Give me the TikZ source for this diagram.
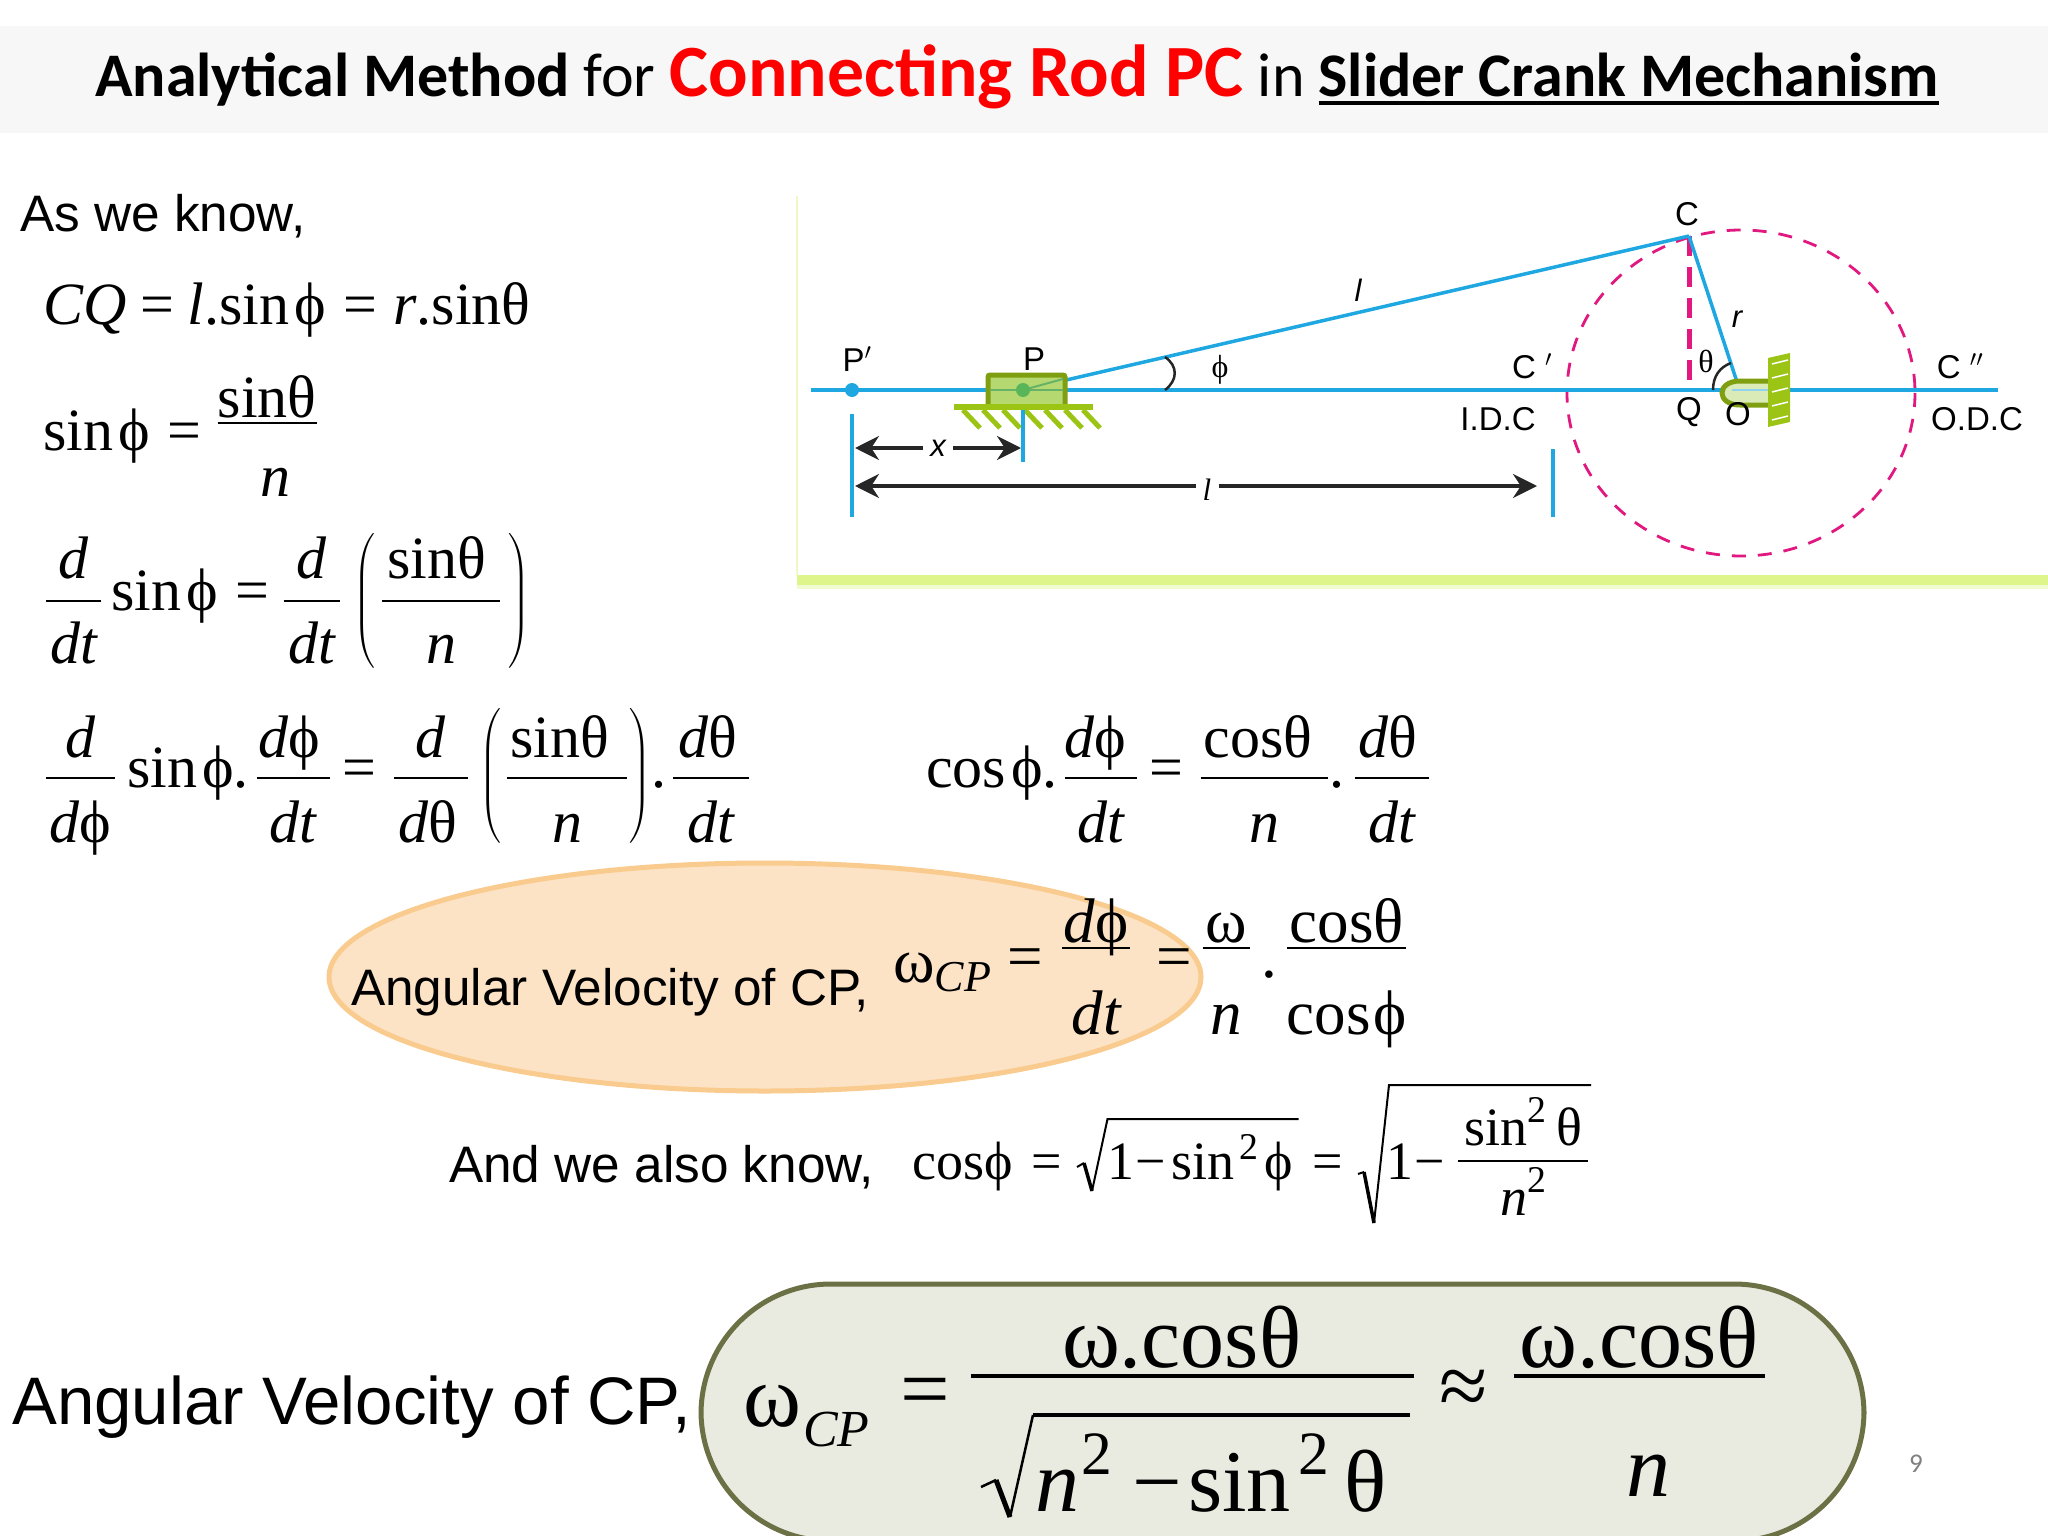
\documentclass[tikz,border=0pt]{standalone}
\usepackage{fix-cm}
\usepackage{amsmath}
\usepackage{fontspec}
\setmainfont{Liberation Serif}
\newfontfamily\bodyfont{Liberation Sans}
\newfontfamily\titlefont{Carlito}
\usetikzlibrary{arrows.meta}
\definecolor{rodblue}{HTML}{1EA7E1}
\definecolor{circlepink}{HTML}{E0187F}
\definecolor{framegreen}{HTML}{7F9F10}
\definecolor{hatchgreen}{HTML}{9CC414}
\definecolor{slidegreen}{HTML}{B6D870}
\definecolor{barlime}{HTML}{DDF58A}
\definecolor{peach}{HTML}{FDE3C6}
\definecolor{peachline}{HTML}{F9CB8E}
\definecolor{sage}{HTML}{E9EBE0}
\definecolor{sageline}{HTML}{6B7045}
\newcommand{\vr}[1]{\text{\itshape #1}}
\newcommand{\phv}{\text{ϕ}}
\newcommand{\thv}{\text{θ}}
\newcommand{\omv}{\text{ω}}
\newcommand{\ssin}{\text{sin}}
\newcommand{\ccos}{\text{cos}}
\newcommand{\two}{^{\text{2}}}
\newcommand{\dotv}{\text{.}}
\newcommand{\eql}{\text{=}}
\newcommand{\mns}{\text{−}}
\newcommand{\gap}[1]{\kern#1pt\relax}
\newcommand{\frthick}{2pt}
\newcommand{\setfr}[3]{\def\frbar{#1pt}\def\frup{#2pt}\def\frdown{#3pt}}
\newcommand{\fr}[3]{\mathord{\hbox{%
  \hbox to 0pt{\hbox to #1pt{\hss\raise\dimexpr\frbar+\frup\relax\hbox{$\displaystyle#2$}\hss}\hss}%
  \hbox to 0pt{\hbox to #1pt{\hss\lower\dimexpr\frdown-\frbar\relax\hbox{$\displaystyle#3$}\hss}\hss}%
  \rule[\frbar]{#1pt}{\frthick}}}}
\newcommand{\lowpar}[2]{\mathord{\lower#1pt\hbox{$\displaystyle\left(#2\right)$}}}
\newcommand{\thickul}[1]{\setbox0=\hbox{#1}\rlap{\rule[-8pt]{\wd0}{3.5pt}}\box0}
\tikzset{
  eqn/.style={anchor=base west, inner sep=0pt, font=\fontsize{60}{70}\selectfont},
  say/.style={anchor=base west, inner sep=0pt, font=\bodyfont\fontsize{51.3}{60}\selectfont},
  lbl/.style={inner sep=0pt, font=\bodyfont\fontsize{33}{38}\selectfont},
  lbi/.style={inner sep=1pt, font=\bodyfont\itshape\fontsize{31}{36}\selectfont},
  rod/.style={draw=rodblue, line width=3.5pt},
  dim/.style={draw=black!85, line width=3.5pt, -{Stealth[length=24pt,width=24pt]}},
  hatch/.style={draw=hatchgreen, line width=5pt},
}
\begin{document}
\begin{tikzpicture}[x=1pt,y=-1pt]
    \clip (0,0) rectangle (2048,1536);
    \fill[black!3] (0,26) rectangle (2048,133);
    \node[anchor=base west, inner sep=0pt, font=\titlefont\fontsize{62}{70}\selectfont] (title) at (95,97)
      {\textbf{Analytical Method} for {\fontsize{73.7}{78}\selectfont\bfseries\color{red}Connecting Rod PC} in \textbf{\thickul{Slider Crank Mechanism}}};

    \fill[barlime] (797,575) rectangle (2048,585);
    \fill[barlime!40] (797,585) rectangle (2048,589);
    \draw[barlime!50, line width=1.5pt] (797,196) -- (797,575);

    \coordinate (axisl) at (811,390);
    \coordinate (axisr) at (1998,390);
    \coordinate (pdot)  at (1023,390);
    \coordinate (pold)  at (852,390);
    \coordinate (c)     at (1689,236);
    \coordinate (q)     at (1689,390);
    \coordinate (o)     at (1737,382);

    \draw[circlepink, line width=2.8pt, dash pattern=on 14pt off 12pt] (1741,393) ellipse [x radius=174, y radius=163];
    \draw[rod] (axisl) -- (axisr);
    \fill[rodblue] (pold) circle (7);
    \draw[circlepink, line width=5pt, dash pattern=on 20pt off 11pt] (c) -- (q);
    \draw[rod] (c) -- (pdot);
    \draw[rod] (c) -- (o);

    \draw[framegreen, fill=slidegreen, line width=5pt, rounded corners=2pt] (988,404) -- (988,375) -- (1065,375) -- (1065,404);
    \draw[draw=green!50!black!60, line width=2pt] (990,390) -- (1063,390);
    \draw[draw=green!50!black!60, line width=2pt] (pdot) -- (1063,379);
    \fill[green!55!black!65] (pdot) circle (7);
    \fill[hatchgreen] (954,404) rectangle (1093,410);
    \foreach \hx in {963,983,1003,1025,1045,1065,1083}
      \draw[hatch] (\hx,410) -- ++(17,18);

    \draw[framegreen, fill=slidegreen!50, line width=5pt] (1770,381) -- (1740,381) .. controls (1716,381) and (1716,405) .. (1740,405) -- (1770,405);
    \draw[rod, line width=1.5pt, rodblue!50] (1732,390) -- (1768,390);
    \fill[hatchgreen] (1768,358) -- (1790,353) -- (1790,422) -- (1768,427) -- cycle;
    \foreach \hy in {364,378,392,406,420}
      \draw[white, line width=1.5pt] (1772,\hy) -- (1788,\hy-4);

    \draw[black!85, line width=2.5pt] (1165,357) .. controls (1178,366) and (1178,380) .. (1165,390);
    \draw[black!85, line width=2.5pt] (1713,390) .. controls (1713,376) and (1720,367) .. (1731,363);

    \node[lbl] (cname)  at (1687,214) {C};
    \node[lbl] (pprime) at (857,359)  {P$'$};
    \node[lbl] (pname)  at (1034,359) {P};
    \node[lbl] (cprime) at (1532,366) {C $'$};
    \node[lbl] (cdprime) at (1960,366) {C $''$};
    \node[lbl] (idc)    at (1498,419) {I.D.C};
    \node[lbl] (qname)  at (1689,412) {Q};
    \node[lbl] (oname)  at (1738,414) {O};
    \node[lbl] (odc)    at (1977,419) {O.D.C};
    \node[lbl, font=\fontsize{32}{36}\selectfont] (thname) at (1706,361) {θ};
    \node[lbl, font=\fontsize{32}{36}\selectfont] (phname) at (1220,370) {ϕ};
    \node[lbi] (lrod)   at (1358,290) {l};
    \node[lbi] (rname)  at (1737,319) {r};

    \coordinate (xa) at (852,414);
    \coordinate (xb) at (852,517);
    \coordinate (ya) at (1023,410);
    \coordinate (yb) at (1023,462);
    \coordinate (za) at (1553,449);
    \coordinate (zb) at (1553,517);
    \draw[rodblue, line width=3.5pt] (xa) -- (xb);
    \draw[rodblue, line width=3.5pt] (ya) -- (yb);
    \draw[rodblue, line width=3.5pt] (za) -- (zb);

    \node[lbi, inner sep=7pt] (xname) at (938,448) {x};
    \node[lbi, inner sep=7pt, font=\itshape\fontsize{31}{36}\selectfont] (lname) at (1207,490) {l};
    \coordinate (xl) at (855,448);
    \coordinate (xr) at (1021,448);
    \coordinate (ll) at (855,486);
    \coordinate (lr) at (1537,486);
    \draw[dim] (xname) -- (xl);
    \draw[dim] (xname) -- (xr);
    \draw[dim] (lname.east |- lr) -- (lr);
    \draw[dim] (lname.west |- ll) -- (ll);

    \node[say] (know) at (20,231) {As we know,};
    \node[eqn] (eqa) at (43,324) {$\vr{CQ}\gap{14}\eql\gap{13}\vr{l}\dotv\ssin\gap{5}\phv\gap{18}\eql\gap{16}\vr{r}\dotv\ssin\thv$};
    \node[eqn] (eqb) at (43,450) {$\setfr{26}{7}{72}\ssin\gap{5}\phv\gap{18}\eql\gap{16}\fr{99}{\ssin\thv}{\gap{16}\vr{n}}$};
    \node[eqn] (eqc) at (46,610) {$\setfr{8}{24}{61}\fr{55}{\vr{d}}{\vr{dt}}\gap{10}\ssin\gap{5}\phv\gap{18}\eql\gap{14}\fr{56}{\vr{d}}{\vr{dt}}\gap{14}\lowpar{6}{\setfr{14}{24}{61}\gap{7}\fr{118}{\gap{-10}\ssin\thv}{\vr{n}}\gap{8}}$};
    \node[eqn] (eqd) at (46,787) {$\setfr{8}{22}{63}\fr{69}{\vr{d}}{\vr{d}\phv}\gap{12}\ssin\gap{5}\phv\dotv\gap{8}\fr{73}{\gap{-8}\vr{d}\phv}{\vr{dt}}\gap{13}\eql\gap{17}\fr{74}{\vr{d}}{\gap{-6}\vr{d}\thv}\gap{12}\lowpar{4}{\setfr{12}{22}{63}\gap{6}\fr{120}{\gap{-16}\ssin\thv}{\vr{n}}\gap{2}}\dotv\gap{7}\fr{76}{\gap{-6}\vr{d}\thv}{\vr{dt}}$};
    \node[eqn] (eqe) at (926,787) {$\setfr{8}{22}{63}\ccos\gap{5}\phv\dotv\gap{7}\fr{72}{\gap{-10}\vr{d}\phv}{\vr{dt}}\gap{13}\eql\gap{17}\fr{127}{\gap{-12}\ccos\thv}{\vr{n}}\gap{2}\dotv\gap{10}\fr{74}{\gap{-8}\vr{d}\thv}{\vr{dt}}$};

    \draw[peachline, fill=peach, line width=5pt] (765,977) ellipse [x radius=436, y radius=114];
    \node[say] (velone) at (351,1005) {Angular Velocity of CP,};
    \node[eqn, font=\fontsize{63}{72}\selectfont] (eqf) at (893,982) {$\setfr{33}{7}{85}\omv_{\vr{CP}}\gap{16}\raisebox{5pt}{=}\gap{19}\fr{68}{\vr{d}\phv}{\vr{dt}}\gap{26}\raisebox{5pt}{=}\gap{11}\fr{47}{\omv}{\vr{n}}\gap{12}\raisebox{5pt}{.}\gap{10}\fr{119}{\ccos\thv}{\ccos\gap{3}\phv}$};

    \node[say] (alsoknow) at (449,1182) {And we also know,};
    \node[eqn, font=\fontsize{54}{64}\selectfont] (eqg) at (912,1179) {$\setfr{17}{17}{53}\ccos\phv\gap{19}\eql\gap{45}\text{1}\gap{1}\mns\gap{6}\ssin\gap{5}\two\gap{6}\phv\gap{19}\eql\gap{44}\text{1}\gap{1}\mns\gap{13}\fr{130}{\ssin\two\gap{10}\thv}{\vr{n}\two}$};
    \draw[line width=2pt] (1077,1167) -- (1084,1163);
    \draw[line width=3.5pt] (1084,1163) -- (1092,1191);
    \draw[line width=2pt] (1092,1191) -- (1107.5,1119) -- (1298.5,1119);
    \draw[line width=2pt] (1358,1174) -- (1364,1172);
    \draw[line width=3.5pt] (1364,1172) -- (1374,1223);
    \draw[line width=2pt] (1374,1223) -- (1389,1085) -- (1591,1085);

    \node[say, font=\bodyfont\fontsize{67.2}{76}\selectfont] (veltwo) at (12,1424) {Angular Velocity of CP,};
    \draw[sageline, fill=sage, line width=5pt, rounded corners=130pt] (701,1284) rectangle (1864,1541);
    \node[eqn, font=\fontsize{88}{100}\selectfont] (eqh) at (743,1426) {\renewcommand{\frthick}{4.5pt}$\setfr{48}{11}{133}\omv\gap{2}\raisebox{-20pt}{\fontsize{52}{58}\selectfont\itshape CP}\gap{31}\raisebox{8pt}{=}\gap{21}\fr{443}{\gap{-22}\omv\dotv\ccos\thv}{\hbox to 443pt{$\displaystyle\gap{64}\vr{n}\gap{2}\two\gap{20}\mns\gap{6}\ssin\gap{8}\two\gap{14}\thv$\hss}}\gap{25}\raisebox{11pt}{≈}\gap{26}\setfr{48}{11}{118}\fr{251}{\omv\dotv\ccos\thv}{\gap{18}\vr{n}}$};
    \draw[line width=2.5pt] (981,1487) -- (996,1480);
    \draw[line width=5pt] (996,1480) -- (1010,1517);
    \draw[line width=2.5pt] (1010,1517) -- (1033,1415);
    \draw[line width=4pt] (1033,1415) -- (1410,1415);

    \node[inner sep=0pt, text=black!50, font=\titlefont\fontsize{27}{30}\selectfont] (pagenum) at (1916,1464) {9};
  \end{tikzpicture}
\end{document}
